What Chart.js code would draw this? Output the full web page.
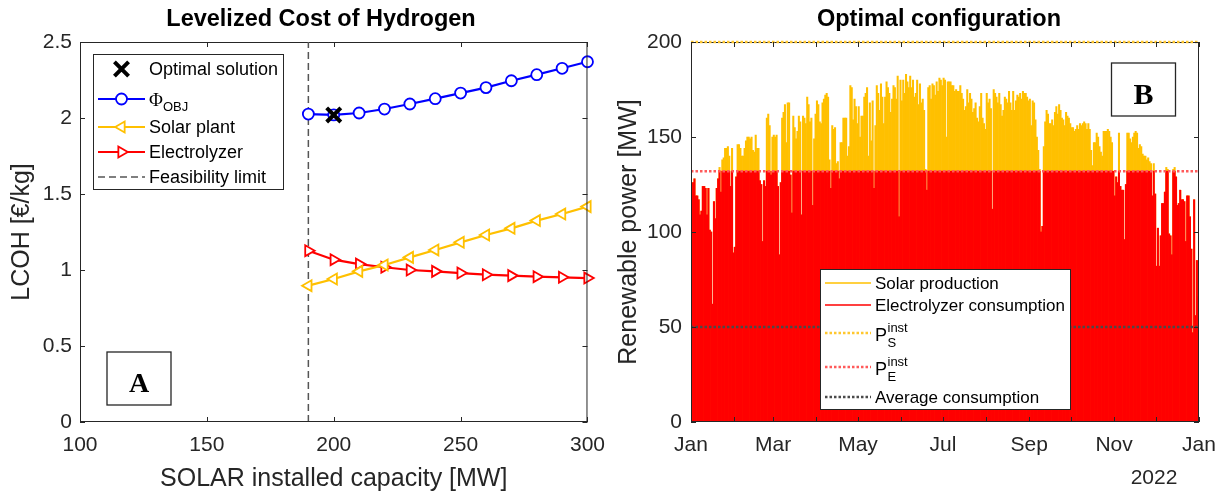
<!DOCTYPE html>
<html>
<head>
<meta charset="utf-8">
<title>LCOH and optimal plant configuration</title>
<script src="https://cdn.jsdelivr.net/npm/chart.js@4.4.1/dist/chart.umd.min.js"></script>
<style>
  html, body { margin: 0; padding: 0; background: #ffffff; }
  body { width: 1227px; height: 493px; position: relative; overflow: hidden; }
  canvas { position: absolute; top: 0; }
  #lcoh { left: 0; }
  #config { left: 600px; }
</style>
</head>
<body>
<canvas id="lcoh" width="616" height="493"></canvas>
<canvas id="config" width="627" height="493"></canvas>
<script>
// ---------- Panel A: levelized cost of hydrogen vs. solar capacity ----------
const solarCapacityMW   = [190, 200, 210, 220, 230, 240, 250, 260, 270, 280, 290, 300];
const lcohObjective     = [2.026, 2.020, 2.033, 2.059, 2.092, 2.127, 2.164, 2.200, 2.245, 2.285, 2.327, 2.370];
const lcohSolarPlant    = [0.897, 0.941, 0.991, 1.033, 1.083, 1.132, 1.182, 1.230, 1.274, 1.325, 1.368, 1.417];
const lcohElectrolyzer  = [1.127, 1.068, 1.039, 1.018, 1.000, 0.991, 0.980, 0.969, 0.963, 0.956, 0.952, 0.947];
const optimalCapacityMW = 200;
const optimalLcoh       = 2.02;
const feasibilityLimitMW = 190;
const lcohXTicks = [100, 150, 200, 250, 300];
const lcohYTicks = [0, 0.5, 1, 1.5, 2, 2.5];

// ---------- Panel B: daily peak power over 2022 (MW) ----------
const solarProduction = [
  119,126,128,119,119,117,109,111,124,124,123,109,123,101,100,62,116,107,123,128,134,121,138,139,144,144,145,140,124,144,89,   // Jan
  92,129,146,146,144,140,140,144,148,150,150,149,150,143,142,151,144,144,127,125,95,127,124,160,162,156,130,150,             // Feb
  151,150,151,124,88,126,160,163,167,147,168,168,130,110,161,155,149,153,161,158,109,161,160,157,171,167,158,160,114,149,162, // Mar
  169,167,158,157,168,170,172,173,171,138,123,156,154,155,136,137,128,147,147,160,160,160,140,145,177,176,159,170,166,157,     // Apr
  166,150,161,161,171,173,176,140,168,148,169,123,156,177,173,164,178,171,157,171,179,176,173,163,170,177,176,170,182,108,180, // May
  169,180,173,183,179,176,182,176,180,171,173,180,167,178,168,170,164,133,122,176,177,170,178,177,172,179,174,181,180,177,     // Jun
  181,180,150,179,179,179,177,177,174,175,174,174,177,173,170,164,166,175,168,173,170,163,165,168,160,158,166,173,160,157,154, // Jul
  173,168,170,165,112,175,173,171,168,173,167,161,164,171,170,168,174,168,164,174,164,169,172,171,173,170,174,173,173,171,169, // Aug
  170,156,169,168,159,150,143,133,100,103,145,158,164,162,157,157,159,156,163,166,162,167,164,160,159,156,163,161,160,157,     // Sep
  155,155,153,154,156,154,157,156,157,158,157,154,157,154,143,135,147,147,152,150,145,142,140,153,153,153,154,153,150,147,132, // Oct
  119,129,126,152,124,122,122,96,125,152,152,149,147,150,152,153,152,144,146,145,141,140,140,138,139,137,136,119,136,120,      // Nov
  82,102,82,98,115,115,121,134,133,99,98,88,133,134,129,114,115,122,117,117,116,95,119,119,108,91,47,117,56,85,66             // Dec
];
const electrolyzerConsumption = [
  119,126,128,119,119,117,109,111,124,124,123,109,123,101,100,62,116,107,123,128,132,121,132,132,132,132,132,132,124,132,89,   // Jan
  92,129,132,132,132,132,132,132,132,132,132,132,132,132,132,132,132,132,127,125,95,127,124,132,132,132,130,132,             // Feb
  132,132,132,124,88,126,132,132,132,132,132,132,130,110,132,132,132,132,132,132,109,132,132,132,132,132,132,132,114,132,132, // Mar
  132,132,132,132,132,132,132,132,132,132,123,132,132,132,132,132,128,132,132,132,132,132,132,132,132,132,132,132,132,132,     // Apr
  132,132,132,132,132,132,132,132,132,132,132,123,132,132,132,132,132,132,132,132,132,132,132,132,132,132,132,132,132,108,132, // May
  132,132,132,132,132,132,132,132,132,132,132,132,132,132,132,132,132,132,122,132,132,132,132,132,132,132,132,132,132,132,     // Jun
  132,132,132,132,132,132,132,132,132,132,132,132,132,132,132,132,132,132,132,132,132,132,132,132,132,132,132,132,132,132,132, // Jul
  132,132,132,132,112,132,132,132,132,132,132,132,132,132,132,132,132,132,132,132,132,132,132,132,132,132,132,132,132,132,132, // Aug
  132,132,132,132,132,132,132,132,100,103,132,132,132,132,132,132,132,132,132,132,132,132,132,132,132,132,132,132,132,132,     // Sep
  132,132,132,132,132,132,132,132,132,132,132,132,132,132,132,132,132,132,132,132,132,132,132,132,132,132,132,132,132,132,132, // Oct
  119,129,126,132,124,122,122,96,125,132,132,132,132,132,132,132,132,132,132,132,132,132,132,132,132,132,132,119,132,120,      // Nov
  82,102,82,98,115,115,121,132,132,99,98,88,132,132,129,114,115,122,117,117,116,95,119,119,108,91,47,117,56,85,66             // Dec
];
const installedSolarMW        = 200;
const installedElectrolyzerMW = 132;
const averageConsumptionMW    = 50;
const monthStartDays  = [0, 31, 59, 90, 120, 151, 181, 212, 243, 273, 304, 334, 365];
const monthTickLabels = ['Jan', '', 'Mar', '', 'May', '', 'Jul', '', 'Sep', '', 'Nov', '', 'Jan'];
const yearLabel = '2022';
const powerYTicks = [0, 50, 100, 150, 200];

// ---------- styling ----------
const SANS = "'Liberation Sans', Arial, Helvetica, sans-serif";
const SERIF = "'Liberation Serif', 'Times New Roman', serif";
const AXIS_COLOR = '#262626';
const BLUE = '#0000ff';
const GOLD = '#ffc000';
const RED = '#ff0000';
const TICK_FONT = { size: 21 };
const LABEL_FONT = { size: 25, lineHeight: 1.1 };
const TITLE_SIZE = 23.5;

Chart.defaults.font.family = SANS;
Chart.defaults.color = AXIS_COLOR;

// Box around the axes with MATLAB-style inward ticks on all four sides.
const framePlugin = {
  id: 'frame',
  beforeDatasetsDraw(chart) {
    const { ctx, chartArea: a } = chart;
    ctx.save();
    ctx.strokeStyle = AXIS_COLOR;
    ctx.lineWidth = 1;
    ctx.beginPath();
    ctx.moveTo(a.left, a.top + 0.5);
    ctx.lineTo(a.right, a.top + 0.5);
    ctx.stroke();
    ctx.restore();
  },
  afterDatasetsDraw(chart) {
    const { ctx, chartArea: a, scales } = chart;
    const len = 5;
    ctx.save();
    ctx.strokeStyle = AXIS_COLOR;
    ctx.lineWidth = 1;
    ctx.beginPath();
    ctx.moveTo(a.left + 0.5, a.top); ctx.lineTo(a.left + 0.5, a.bottom);
    ctx.moveTo(a.right - 0.5, a.top); ctx.lineTo(a.right - 0.5, a.bottom);
    ctx.moveTo(a.left, a.bottom - 0.5); ctx.lineTo(a.right, a.bottom - 0.5);
    scales.x.ticks.forEach(t => {
      const px = Math.round(scales.x.getPixelForValue(t.value)) + 0.5;
      ctx.moveTo(px, a.bottom); ctx.lineTo(px, a.bottom - len);
      ctx.moveTo(px, a.top); ctx.lineTo(px, a.top + len);
    });
    scales.y.ticks.forEach(t => {
      const py = Math.round(scales.y.getPixelForValue(t.value)) + 0.5;
      ctx.moveTo(a.left, py); ctx.lineTo(a.left + len, py);
      ctx.moveTo(a.right, py); ctx.lineTo(a.right - len, py);
    });
    ctx.stroke();
    ctx.restore();
  }
};

function drawMarker(ctx, ds, x, y) {
  const style = ds.pointStyle || 'circle';
  const r = ds.pointRadius;
  if (!r) return;
  ctx.save();
  ctx.lineWidth = ds.pointBorderWidth || 1;
  ctx.strokeStyle = ds.pointBorderColor || ds.borderColor;
  ctx.fillStyle = ds.pointBackgroundColor || 'rgba(0,0,0,0)';
  ctx.beginPath();
  let rad = (ds.pointRotation || 0) * Math.PI / 180;
  if (style === 'circle') {
    ctx.arc(x, y, r, 0, Math.PI * 2);
    ctx.fill(); ctx.stroke();
  } else if (style === 'triangle') {
    for (let k = 0; k < 3; k++) {
      const px = x + Math.sin(rad) * r, py = y - Math.cos(rad) * r;
      if (k === 0) ctx.moveTo(px, py); else ctx.lineTo(px, py);
      rad += 2 * Math.PI / 3;
    }
    ctx.closePath();
    ctx.fill(); ctx.stroke();
  } else if (style === 'crossRot') {
    rad += Math.PI / 4;
    const xo = Math.cos(rad) * r, yo = Math.sin(rad) * r;
    ctx.moveTo(x - xo, y - yo); ctx.lineTo(x + xo, y + yo);
    ctx.moveTo(x + yo, y - xo); ctx.lineTo(x - yo, y + xo);
    ctx.stroke();
  }
  ctx.restore();
}

// Legend drawn inside the axes, in a white box with a thin border.
const boxLegendPlugin = {
  id: 'boxLegend',
  afterDraw(chart, args, opts) {
    if (!opts || !opts.items) return;
    const ctx = chart.ctx;
    const b = opts.box;
    ctx.save();
    ctx.fillStyle = '#ffffff';
    ctx.fillRect(b.x, b.y, b.w, b.h);
    ctx.strokeStyle = AXIS_COLOR;
    ctx.lineWidth = 1;
    ctx.strokeRect(b.x + 0.5, b.y + 0.5, b.w - 1, b.h - 1);
    opts.items.forEach(item => {
      const ds = chart.data.datasets[item.dataset];
      const [x0, x1] = opts.lineX;
      if (ds.showLine !== false) {
        ctx.save();
        ctx.strokeStyle = ds.borderColor;
        ctx.lineWidth = item.lineWidth || ds.borderWidth;
        ctx.setLineDash(ds.borderDash || []);
        ctx.beginPath();
        ctx.moveTo(x0, item.y);
        ctx.lineTo(x1, item.y);
        ctx.stroke();
        ctx.restore();
      }
      if (item.marker) drawMarker(ctx, ds, (x0 + x1) / 2, item.y);
      let tx = opts.textX;
      item.label.forEach(seg => {
        ctx.font = seg.size + 'px ' + (seg.serif ? SERIF : SANS);
        ctx.fillStyle = '#000000';
        ctx.textBaseline = 'alphabetic';
        ctx.textAlign = 'left';
        const x = seg.x !== undefined ? opts.textX + seg.x : tx;
        const base = item.y + (seg.dy !== undefined ? seg.dy : 0.36 * seg.size);
        ctx.fillText(seg.text, x, base);
        tx = x + ctx.measureText(seg.text).width;
      });
    });
    ctx.restore();
  }
};

// Panel title, framed panel letter and an optional extra axis note.
const panelTagPlugin = {
  id: 'panelTag',
  afterDraw(chart, args, opts) {
    if (!opts) return;
    const ctx = chart.ctx;
    ctx.save();
    if (opts.title) {
      ctx.fillStyle = '#000000';
      ctx.font = 'bold ' + TITLE_SIZE + 'px ' + SANS;
      ctx.textAlign = 'center';
      ctx.textBaseline = 'middle';
      ctx.fillText(opts.title.text, opts.title.x, opts.title.y);
    }
    if (opts.tag) {
      const t = opts.tag;
      ctx.fillStyle = '#ffffff';
      ctx.fillRect(t.x, t.y, t.w, t.h);
      ctx.strokeStyle = AXIS_COLOR;
      ctx.lineWidth = 1.3;
      ctx.strokeRect(t.x, t.y, t.w, t.h);
      ctx.fillStyle = '#000000';
      ctx.font = 'bold ' + t.size + 'px ' + SERIF;
      ctx.textAlign = 'center';
      ctx.textBaseline = 'alphabetic';
      ctx.fillText(t.text, t.x + t.w / 2, t.baseline);
    }
    if (opts.note) {
      ctx.fillStyle = AXIS_COLOR;
      ctx.font = opts.note.size + 'px ' + SANS;
      ctx.textAlign = 'center';
      ctx.textBaseline = 'middle';
      ctx.fillText(opts.note.text, opts.note.x, opts.note.y);
    }
    ctx.restore();
  }
};

const commonPlugins = { legend: { display: false }, tooltip: { enabled: false }, title: { display: false } };
const plainNumber = v => String(v);

// ---------- Panel A ----------
new Chart(document.getElementById('lcoh'), {
  type: 'line',
  data: {
    datasets: [
      {
        label: 'Optimal solution',
        data: [{ x: optimalCapacityMW, y: optimalLcoh }],
        showLine: false,
        borderColor: '#000000',
        pointStyle: 'crossRot', pointRadius: 10, pointBorderWidth: 4,
        pointBorderColor: '#000000', pointBackgroundColor: '#000000',
        clip: false
      },
      {
        label: 'Φ OBJ',
        data: solarCapacityMW.map((c, i) => ({ x: c, y: lcohObjective[i] })),
        borderColor: BLUE, borderWidth: 2.2, tension: 0,
        pointStyle: 'circle', pointRadius: 5.5, pointBorderWidth: 1.8,
        pointBorderColor: BLUE, pointBackgroundColor: '#ffffff',
        clip: false
      },
      {
        label: 'Solar plant',
        data: solarCapacityMW.map((c, i) => ({ x: c, y: lcohSolarPlant[i] })),
        borderColor: GOLD, borderWidth: 2.2, tension: 0,
        pointStyle: 'triangle', pointRotation: -90, pointRadius: 6.3, pointBorderWidth: 1.8,
        pointBorderColor: GOLD, pointBackgroundColor: '#ffffff',
        clip: false
      },
      {
        label: 'Electrolyzer',
        data: solarCapacityMW.map((c, i) => ({ x: c, y: lcohElectrolyzer[i] })),
        borderColor: RED, borderWidth: 2.2, tension: 0,
        pointStyle: 'triangle', pointRotation: 90, pointRadius: 6.3, pointBorderWidth: 1.8,
        pointBorderColor: RED, pointBackgroundColor: '#ffffff',
        clip: false
      },
      {
        label: 'Feasibility limit',
        data: [{ x: feasibilityLimitMW, y: lcohYTicks[0] }, { x: feasibilityLimitMW, y: lcohYTicks[lcohYTicks.length - 1] }],
        borderColor: '#555555', borderWidth: 1.5, borderDash: [7, 4],
        pointRadius: 0
      }
    ]
  },
  options: {
    responsive: false,
    animation: false,
    events: [],
    layout: { padding: { left: 0, right: 26, top: 42, bottom: 0 } },
    plugins: {
      ...commonPlugins,
      boxLegend: {
        box: { x: 93, y: 54, w: 191, h: 136 },
        lineX: [98, 145],
        textX: 149,
        items: [
          { dataset: 0, y: 69, marker: true, label: [{ text: 'Optimal solution', size: 18 }] },
          { dataset: 1, y: 99, marker: true, label: [
            { text: 'Φ', size: 19, serif: true, dy: 7 },
            { text: 'OBJ', size: 13, dy: 12 }
          ] },
          { dataset: 2, y: 127, marker: true, label: [{ text: 'Solar plant', size: 18 }] },
          { dataset: 3, y: 152, marker: true, label: [{ text: 'Electrolyzer', size: 18 }] },
          { dataset: 4, y: 177, marker: false, label: [{ text: 'Feasibility limit', size: 18 }] }
        ]
      },
      panelTag: {
        title: { text: 'Levelized Cost of Hydrogen', x: 321, y: 20 },
        tag: { x: 107, y: 352, w: 64, h: 53, text: 'A', size: 28, baseline: 392 }
      }
    },
    scales: {
      x: {
        type: 'linear', min: lcohXTicks[0], max: lcohXTicks[lcohXTicks.length - 1],
        afterBuildTicks(scale) { scale.ticks = lcohXTicks.map(v => ({ value: v })); },
        ticks: { padding: 11, font: TICK_FONT, color: AXIS_COLOR, maxRotation: 0, autoSkip: false, callback: plainNumber },
        grid: { display: false, drawTicks: false }, border: { display: false },
        title: { display: true, text: 'SOLAR installed capacity [MW]', font: LABEL_FONT, color: AXIS_COLOR, padding: { top: 0, bottom: 0 } },
        afterFit(scale) { scale.height = 71; }
      },
      y: {
        type: 'linear', min: lcohYTicks[0], max: lcohYTicks[lcohYTicks.length - 1],
        afterBuildTicks(scale) { scale.ticks = lcohYTicks.map(v => ({ value: v })); },
        ticks: { padding: 8, font: TICK_FONT, color: AXIS_COLOR, autoSkip: false, callback: plainNumber },
        grid: { display: false, drawTicks: false }, border: { display: false },
        title: { display: true, text: 'LCOH [€/kg]', font: { size: 25 }, color: AXIS_COLOR, padding: { top: 7, bottom: 0 } },
        afterFit(scale) { scale.width = 80; }
      }
    }
  },
  plugins: [framePlugin, boxLegendPlugin, panelTagPlugin]
});

// ---------- Panel B ----------
const yearEnd = monthStartDays[monthStartDays.length - 1];
const horizontalLine = value => [{ x: 0, y: value }, { x: yearEnd, y: value }];

new Chart(document.getElementById('config'), {
  type: 'bar',
  data: {
    datasets: [
      {
        type: 'line', label: 'P_S inst', data: horizontalLine(installedSolarMW),
        borderColor: '#ffc72e', borderWidth: 2.5, borderDash: [2.5, 2], pointRadius: 0, order: 0, clip: false
      },
      {
        type: 'line', label: 'P_E inst', data: horizontalLine(installedElectrolyzerMW),
        borderColor: '#ff5a5a', borderWidth: 2.5, borderDash: [2.5, 2], pointRadius: 0, order: 0
      },
      {
        type: 'line', label: 'Average consumption', data: horizontalLine(averageConsumptionMW),
        borderColor: '#4a4a4a', borderWidth: 2.5, borderDash: [2.5, 2], pointRadius: 0, order: 0
      },
      {
        type: 'bar', label: 'Electrolyzer consumption',
        data: electrolyzerConsumption.map((v, i) => ({ x: i + 0.5, y: v })),
        backgroundColor: RED, borderColor: RED, borderWidth: 0,
        barPercentage: 1, categoryPercentage: 1, grouped: false, order: 1
      },
      {
        type: 'bar', label: 'Solar production',
        data: solarProduction.map((v, i) => ({ x: i + 0.5, y: v })),
        backgroundColor: GOLD, borderColor: GOLD, borderWidth: 0,
        barPercentage: 1, categoryPercentage: 1, grouped: false, order: 2
      }
    ]
  },
  options: {
    responsive: false,
    animation: false,
    events: [],
    layout: { padding: { left: 0, right: 28, top: 42, bottom: 0 } },
    plugins: {
      ...commonPlugins,
      boxLegend: {
        box: { x: 220, y: 269, w: 251, h: 141 },
        lineX: [225, 271],
        textX: 275,
        items: [
          { dataset: 4, y: 283, marker: false, lineWidth: 1.5, label: [{ text: 'Solar production', size: 17 }] },
          { dataset: 3, y: 305, marker: false, lineWidth: 1.5, label: [{ text: 'Electrolyzer consumption', size: 17 }] },
          { dataset: 0, y: 333, marker: false, label: [
            { text: 'P', size: 18, dy: 8 },
            { text: 'inst', size: 13, x: 12.5, dy: -1.5 },
            { text: 'S', size: 13, x: 12.5, dy: 14 }
          ] },
          { dataset: 1, y: 367, marker: false, label: [
            { text: 'P', size: 18, dy: 8 },
            { text: 'inst', size: 13, x: 12.5, dy: -1.5 },
            { text: 'E', size: 13, x: 12.5, dy: 14 }
          ] },
          { dataset: 2, y: 397, marker: false, label: [{ text: 'Average consumption', size: 17 }] }
        ]
      },
      panelTag: {
        title: { text: 'Optimal configuration', x: 339, y: 20 },
        tag: { x: 511.5, y: 63, w: 64, h: 53, text: 'B', size: 30, baseline: 104 },
        note: { text: yearLabel, x: 554, y: 478, size: 21 }
      }
    },
    scales: {
      x: {
        type: 'linear', min: 0, max: yearEnd, offset: false,
        afterBuildTicks(scale) { scale.ticks = monthStartDays.map(v => ({ value: v })); },
        ticks: {
          padding: 11, font: TICK_FONT, color: AXIS_COLOR, maxRotation: 0, autoSkip: false,
          callback(value) { const k = monthStartDays.indexOf(value); return k >= 0 ? monthTickLabels[k] : ''; }
        },
        grid: { display: false, drawTicks: false, offset: false }, border: { display: false },
        afterFit(scale) { scale.height = 71; }
      },
      y: {
        type: 'linear', min: powerYTicks[0], max: powerYTicks[powerYTicks.length - 1],
        afterBuildTicks(scale) { scale.ticks = powerYTicks.map(v => ({ value: v })); },
        ticks: { padding: 9, font: TICK_FONT, color: AXIS_COLOR, autoSkip: false, callback: plainNumber },
        grid: { display: false, drawTicks: false }, border: { display: false },
        title: { display: true, text: 'Renewable power [MW]', font: { size: 25 }, color: AXIS_COLOR, padding: { top: 14, bottom: 0 } },
        afterFit(scale) { scale.width = 91; }
      }
    }
  },
  plugins: [framePlugin, boxLegendPlugin, panelTagPlugin]
});
</script>
</body>
</html>
